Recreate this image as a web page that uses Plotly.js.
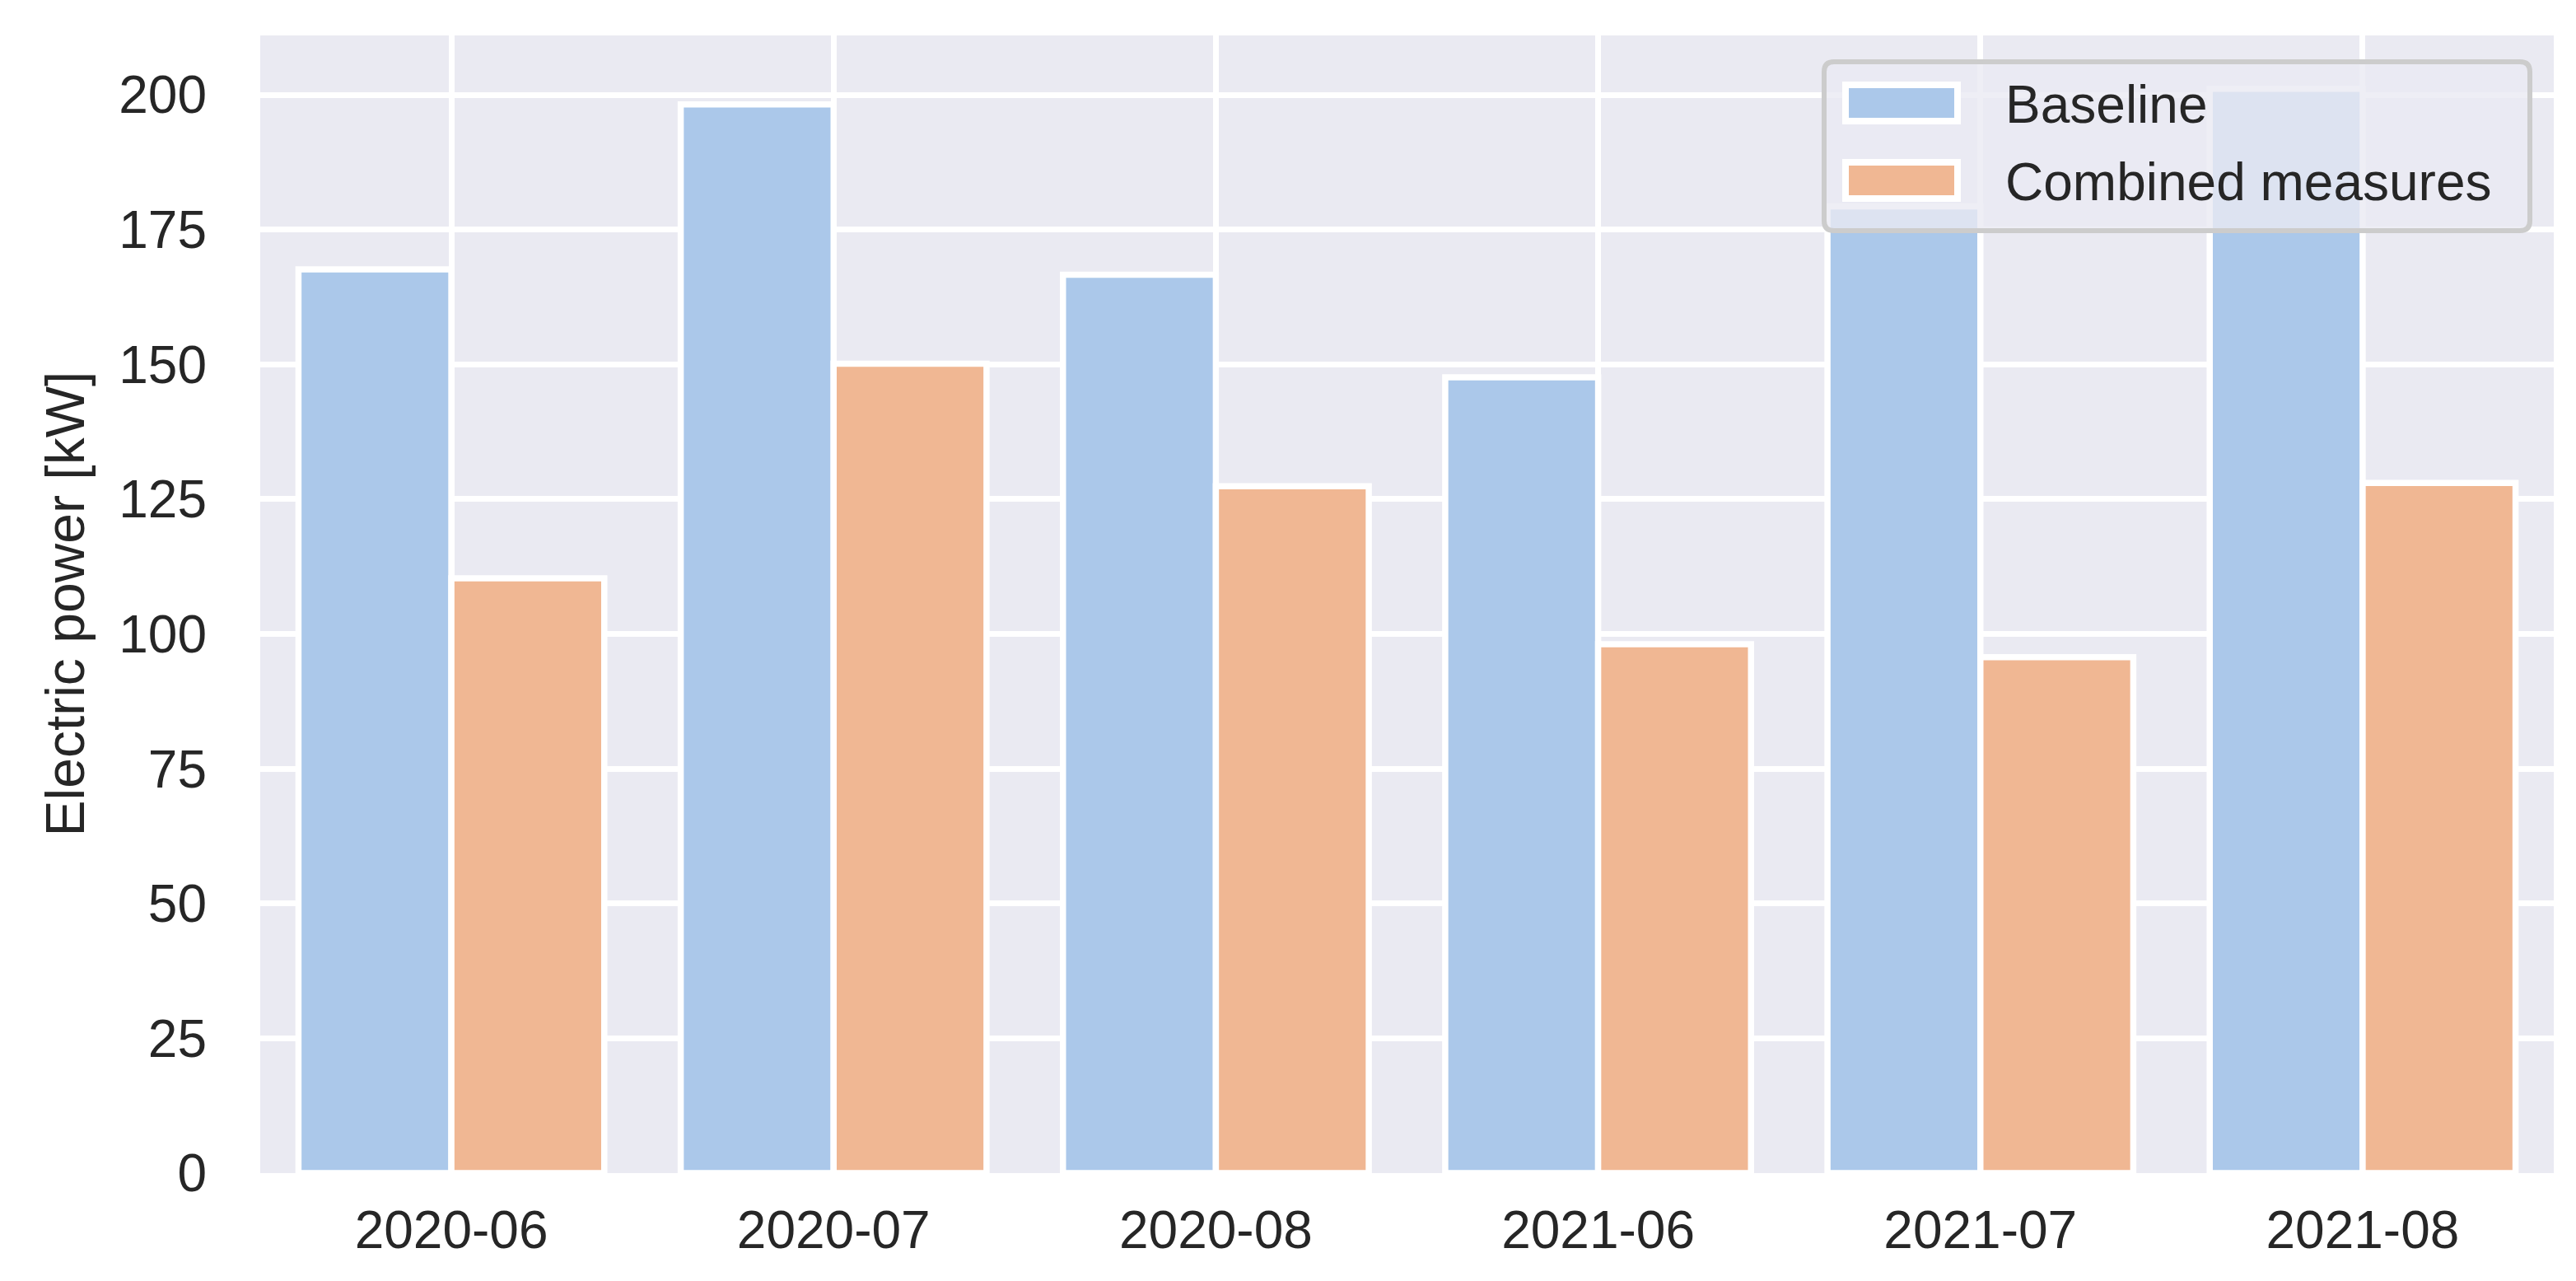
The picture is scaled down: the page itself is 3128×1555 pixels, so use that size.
<!DOCTYPE html>
<html>
<head>
<meta charset="utf-8">
<script src="https://cdn.plot.ly/plotly-3.0.1.min.js"></script>
<style>
  html, body { margin: 0; padding: 0; background: #ffffff; }
  #chart { width: 3128px; height: 1555px; }
</style>
</head>
<body>
<div id="chart"></div>
<script>
// ---- Data ----
const categories = ['2020-06', '2020-07', '2020-08', '2021-06', '2021-07', '2021-08'];
const seriesNames = ['Baseline', 'Combined measures'];
const baseline = [167.6, 198.2, 166.6, 147.6, 179.3, 201.1];
const combined = [110.3, 150.1, 127.4, 98.1, 95.7, 128.0];
const yTickValues = [0, 25, 50, 75, 100, 125, 150, 175, 200];
const yAxisTitle = 'Electric power [kW]';

// ---- Styling ----
const W = 3128, H = 1555;
const M = { l: 316, r: 27, t: 43, b: 131 };
const colors = ['#abc8ea', '#f0b793'];
const font = 'Liberation Sans, Arial, Helvetica, sans-serif';
const textColor = '#262626';
const bg = '#eaeaf2';

const plotW = W - M.l - M.r, plotH = H - M.t - M.b;
const px2x = p => (p - M.l) / plotW;
const px2y = p => (H - M.b - p) / plotH;

const traces = [baseline, combined].map((vals, i) => ({
  type: 'bar',
  name: seriesNames[i],
  x: categories,
  y: vals,
  marker: { color: colors[i], line: { color: '#ffffff', width: 7.5 } },
  showlegend: false,
  hoverinfo: 'x+y+name'
}));

// custom legend (matplotlib style rounded box)
const legBox = { x0: 2215, x1: 3072, y0: 75, y1: 280, r: 12 };
function roundedPath(b) {
  const X = px2x, Y = px2y, r = b.r;
  return 'M' + X(b.x0 + r) + ',' + Y(b.y0) +
    ' L' + X(b.x1 - r) + ',' + Y(b.y0) +
    ' Q' + X(b.x1) + ',' + Y(b.y0) + ' ' + X(b.x1) + ',' + Y(b.y0 + r) +
    ' L' + X(b.x1) + ',' + Y(b.y1 - r) +
    ' Q' + X(b.x1) + ',' + Y(b.y1) + ' ' + X(b.x1 - r) + ',' + Y(b.y1) +
    ' L' + X(b.x0 + r) + ',' + Y(b.y1) +
    ' Q' + X(b.x0) + ',' + Y(b.y1) + ' ' + X(b.x0) + ',' + Y(b.y1 - r) +
    ' L' + X(b.x0) + ',' + Y(b.y0 + r) +
    ' Q' + X(b.x0) + ',' + Y(b.y0) + ' ' + X(b.x0 + r) + ',' + Y(b.y0) + ' Z';
}
const rowY = [125, 219];
const shapes = [{
  type: 'path', xref: 'paper', yref: 'paper', layer: 'above',
  path: roundedPath(legBox),
  fillcolor: 'rgba(234,234,242,0.8)', line: { color: '#cccccc', width: 6 }
}];
const annotations = [];
seriesNames.forEach((nm, i) => {
  shapes.push({
    type: 'rect', xref: 'paper', yref: 'paper', layer: 'above',
    x0: px2x(2241), x1: px2x(2377), y0: px2y(rowY[i] + 22), y1: px2y(rowY[i] - 22),
    fillcolor: colors[i], line: { color: '#ffffff', width: 8 }
  });
  annotations.push({
    xref: 'paper', yref: 'paper', x: px2x(2433), y: px2y(rowY[i] + 2),
    xanchor: 'left', yanchor: 'middle', showarrow: false,
    text: nm, font: { family: font, size: 64, color: textColor }
  });
});
// y-axis title placed like matplotlib's ylabel
annotations.push({
  xref: 'paper', yref: 'paper', x: px2x(78), y: 0.5,
  xanchor: 'center', yanchor: 'middle', textangle: -90, showarrow: false,
  text: yAxisTitle, font: { family: font, size: 66, color: textColor }
});

const layout = {
  width: W, height: H,
  margin: M,
  paper_bgcolor: '#ffffff',
  plot_bgcolor: bg,
  barmode: 'group',
  bargap: 0.2,
  bargroupgap: 0,
  font: { family: font, size: 64, color: textColor },
  xaxis: {
    type: 'category',
    range: [-0.5, categories.length - 0.5],
    showgrid: true, gridcolor: '#ffffff', gridwidth: 7,
    zeroline: false, showline: false, ticks: '',
    tickfont: { family: font, size: 64, color: textColor },
    ticklabelstandoff: 26,
    automargin: false
  },
  yaxis: {
    range: [0, 211],
    tickvals: yTickValues,
    showgrid: true, gridcolor: '#ffffff', gridwidth: 7,
    zeroline: false, showline: false, ticks: '',
    tickfont: { family: font, size: 64, color: textColor },
    ticklabelstandoff: 64,
    automargin: false
  },
  shapes: shapes,
  annotations: annotations
};

Plotly.newPlot('chart', traces, layout, { staticPlot: true, displayModeBar: false });
</script>
</body>
</html>
